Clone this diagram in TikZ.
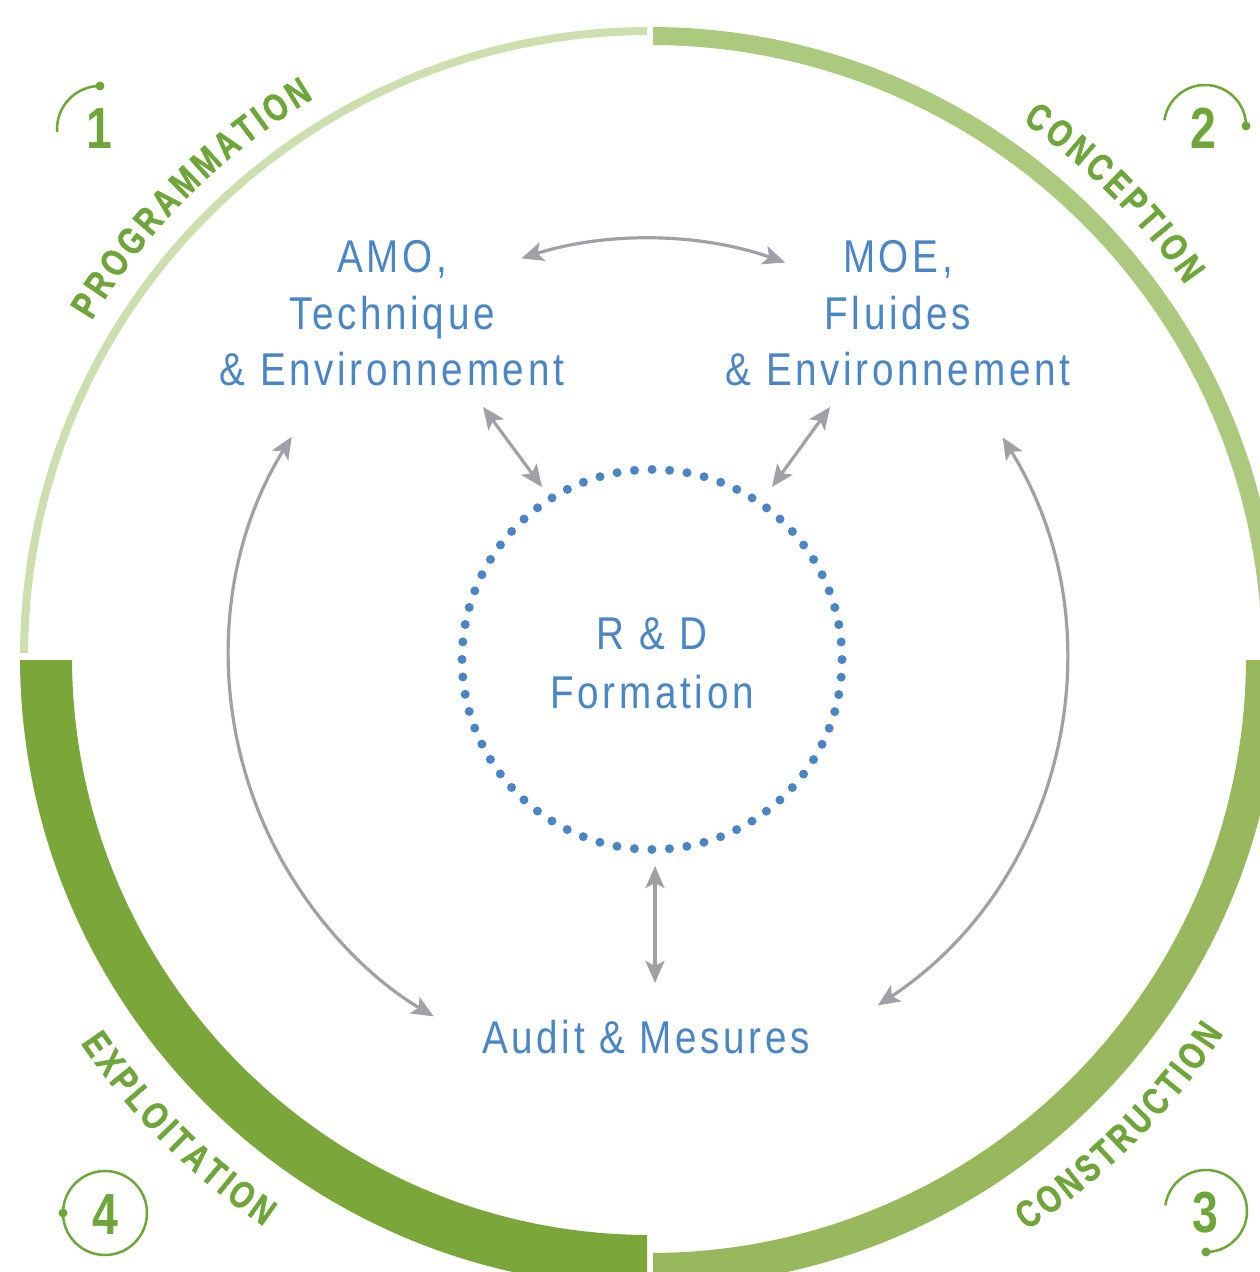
\documentclass[tikz,border=0pt]{standalone}
\usepackage{fontspec}
\usetikzlibrary{arrows.meta,decorations.text,calc}
\setmainfont{Liberation Sans}
\newfontfamily\bluefnt[FakeStretch=0.84,LetterSpace=8]{Liberation Sans}
\newfontfamily\greenfnt[FakeStretch=0.80]{Liberation Sans}
\newfontfamily\lblfnt[FakeStretch=0.78,FakeBold=1.2,WordSpace=0.46]{Liberation Sans}
\definecolor{cprog}{HTML}{CDDEAF}
\definecolor{cconc}{HTML}{ACCA7D}
\definecolor{ccons}{HTML}{97B85C}
\definecolor{cexpl}{HTML}{7AA63A}
\definecolor{cgreen}{HTML}{6FA63A}
\definecolor{cblue}{HTML}{4A86C6}
\definecolor{cgray}{HTML}{A0A0A6}
\begin{document}
\begin{tikzpicture}[x=1pt,y=1pt,
  bluetxt/.style={font=\bluefnt\fontsize{46}{56.5}\selectfont, text=cblue, inner sep=0pt, anchor=base},
  numtxt/.style={font=\greenfnt\bfseries\fontsize{58}{58}\selectfont, text=cgreen, inner sep=0pt},
  numarc/.style={draw=cgreen, line width=2.5pt},
  conn/.style={draw=cgray, line width=3.2pt, {Stealth[length=22pt,width=19pt,inset=5pt]}-{Stealth[length=22pt,width=19pt,inset=5pt]}},
  dotring/.style={draw=cblue, line width=9pt, line cap=round, dash pattern=on 0pt off 17.556pt},
  arclabel/.style={decorate, decoration={text along path, text align=center, text color=cgreen, text={#1}}}
]
\useasboundingbox[fill=white] (0,0) rectangle (1260,1272);
\coordinate (o) at (650,615);
% ---- outer ring quadrants
\begin{scope}
  \clip (0,619) rectangle (647,1272);
  \fill[cprog, even odd rule] (o) circle[radius=630] (o) circle[radius=622];
\end{scope}
\begin{scope}
  \clip (653,619) rectangle (1300,1272);
  \fill[cconc, even odd rule] (o) circle[radius=630] (o) circle[radius=612];
\end{scope}
\begin{scope}
  \clip (653,-100) rectangle (1300,611);
  \fill[ccons, even odd rule] (o) circle[radius=630] (o) circle[radius=596];
\end{scope}
\begin{scope}
  \clip (-100,-100) rectangle (647,611);
  \fill[cexpl, even odd rule] (o) circle[radius=630] (o) circle[radius=578];
\end{scope}
% ---- phase labels along the ring
\path[arclabel={|\lblfnt\bfseries\fontsize{38}{38}\selectfont|P R O G R A M M A T I O N}] (o) ++(160:652) arc[start angle=160, end angle=110, radius=652];
\path[arclabel={|\lblfnt\bfseries\fontsize{38}{38}\selectfont|C O N C E P T I O N}] (o) ++(70:652) arc[start angle=70, end angle=20, radius=652];
\path[arclabel={|\lblfnt\bfseries\fontsize{38}{38}\selectfont|C O N S T R U C T I O N}] (o) ++(-70:686) arc[start angle=-70, end angle=-20, radius=686];
\path[arclabel={|\lblfnt\bfseries\fontsize{38}{38}\selectfont|E X P L O I T A T I O N}] (o) ++(-160:688) arc[start angle=-160, end angle=-110, radius=688];
% ---- numbered markers
\coordinate (c1) at (100,1143);
\coordinate (c2) at (1205,1146);
\coordinate (c3) at (1206,61);
\coordinate (c4) at (105,59);
\node[numtxt] (n1) at (99,1143) {1};
\node[numtxt] (n2) at (1203,1144) {2};
\node[numtxt] (n3) at (1205,59) {3};
\node[numtxt] (n4) at (105,57) {4};
\draw[numarc] (c1) ++(184:43) arc[start angle=184, end angle=90, radius=43];
\fill[cgreen] (c1) ++(90:43) circle[radius=4.5];
\draw[numarc] (c2) ++(172:41) arc[start angle=172, end angle=0, radius=41];
\fill[cgreen] (c2) ++(0:41) circle[radius=4.5];
\draw[numarc] (c3) ++(172:41) arc[start angle=172, end angle=-90, radius=41];
\fill[cgreen] (c3) ++(-90:41) circle[radius=4.5];
\draw[numarc] (c4) circle[radius=42];
\fill[cgreen] (c4) ++(180:42) circle[radius=4.5];
% ---- central dotted circle
\coordinate (rdc) at (652,612.5);
\draw[dotring] (rdc) circle[radius=190];
% ---- blue texts
\node[bluetxt] (amo) at (392,999) {\begin{tabular}[t]{@{}c@{}}AMO,\\Technique\\\& Environnement\end{tabular}};
\node[bluetxt] (moe) at (898,999) {\begin{tabular}[t]{@{}c@{}}MOE,\\Fluides\\\& Environnement\end{tabular}};
\node[bluetxt, font=\bluefnt\fontsize{46}{58.5}\selectfont] (rd) at (652,622) {\begin{tabular}[t]{@{}c@{}}R \& D\\Formation\end{tabular}};
\node[bluetxt] (audit) at (646,218) {Audit \& Mesures};
% ---- connectors
\coordinate (ac) at (647,615);
\coordinate (tA) at ($(ac)+(107.5:418)$);
\coordinate (lA) at ($(ac)+(148.2:418)$);
\coordinate (rA) at ($(ac)+(31.7:418)$);
\draw[conn] (tA) arc[start angle=107.5, end angle=70.7, radius=418];
\draw[conn] (lA) arc[start angle=148.2, end angle=239.3, radius=418];
\draw[conn] (rA) arc[start angle=31.7, end angle=-56.5, radius=418];
\coordinate (s1a) at (483,865); \coordinate (s1b) at (542,785);
\coordinate (s2a) at (830,865); \coordinate (s2b) at (772,785);
\coordinate (s3a) at (655,406); \coordinate (s3b) at (655,289);
\draw[conn] (s1a) -- (s1b);
\draw[conn] (s2a) -- (s2b);
\draw[conn] (s3a) -- (s3b);
\end{tikzpicture}
\end{document}
